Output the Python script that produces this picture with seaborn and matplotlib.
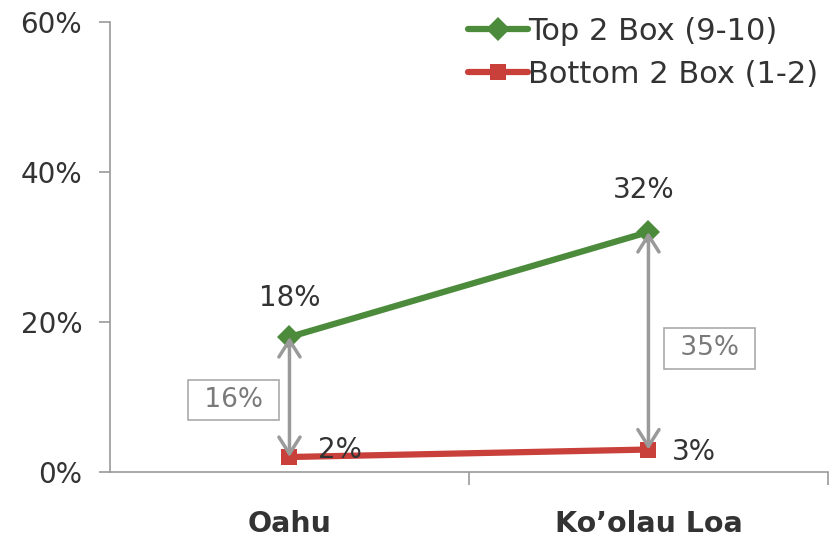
import pandas as pd
import numpy as np
import matplotlib
matplotlib.use("Agg")
import matplotlib.pyplot as plt
import seaborn as sns

# Data
regions = ["Oahu", "Ko\u2019olau Loa"]
top2 = [18, 32]
bottom2 = [2, 3]
gaps = ["16%", "35%"]
series_names = ["Top 2 Box (9-10)", "Bottom 2 Box (1-2)"]

df = pd.DataFrame({
    "region": regions * 2,
    "pct": top2 + bottom2,
    "series": [series_names[0]] * 2 + [series_names[1]] * 2,
})

sns.set_style("white")
plt.rcParams['font.family'] = ['DejaVu Sans']

green = "#4c8b3c"
red = "#c9403a"
grey = "#9a9a9a"
text_col = "#333333"

fig = plt.figure(figsize=(8.3, 5.37), dpi=100)
ax = fig.add_axes([0.1325, 0.121, 0.865, 0.838])

sns.lineplot(data=df, x="region", y="pct", hue="series", style="series",
             palette=[green, red], markers=["D", "s"], dashes=False,
             markersize=12, linewidth=4.5, markeredgewidth=0, ax=ax)

# gap arrows between the two series
for i in range(len(regions)):
    ax.annotate("", xy=(i, bottom2[i]), xytext=(i, top2[i]),
                arrowprops=dict(arrowstyle="<->,head_length=0.6,head_width=0.38",
                                mutation_scale=20, color=grey, lw=2.5,
                                shrinkA=0, shrinkB=0))

# boxed differences (offset from each category)
gap_pos = [(-0.156, 9.6), (0.17, 16.5)]
for i, g in enumerate(gaps):
    gx, gy = gap_pos[i]
    ax.text(i + gx, gy, " " + g + " ", ha="center", va="center", fontsize=19,
            color="#7a7a7a",
            bbox=dict(boxstyle="square,pad=0.28", fc="white", ec="#aaaaaa", lw=1.2))

# value labels
top_off = [(0.0, 5.2), (-0.013, 5.6)]
bot_off = [(0.14, 0.9), (0.126, -0.3)]
for i in range(len(regions)):
    ax.text(i + top_off[i][0], top2[i] + top_off[i][1], f"{top2[i]}%",
            ha="center", va="center", fontsize=20, color=text_col)
    ax.text(i + bot_off[i][0], bottom2[i] + bot_off[i][1], f"{bottom2[i]}%",
            ha="center", va="center", fontsize=20, color=text_col)

ax.set_xlim(-0.5, 1.5)
ax.set_ylim(0, 60)
ax.set_yticks([0, 20, 40, 60])
ax.set_yticklabels([f"{v}%" for v in [0, 20, 40, 60]], fontsize=20, color=text_col)
ax.set_xticks(range(len(regions)))
ax.set_xticklabels(regions, fontsize=20.5, fontweight="bold", color=text_col)
ax.tick_params(axis="x", length=0, pad=27)
ax.tick_params(axis="y", length=8, width=1.2, color=grey, left=True, pad=12)
ax.set_xticks([0.5, 1.5], minor=True)
ax.tick_params(axis="x", which="minor", length=9, width=1.2, color=grey,
               bottom=True, direction="out")
ax.set_xlabel("")
ax.set_ylabel("")

for s in ["top", "right"]:
    ax.spines[s].set_visible(False)
for s in ["left", "bottom"]:
    ax.spines[s].set_color(grey)
    ax.spines[s].set_linewidth(1.2)

leg = ax.legend(loc="upper right", bbox_to_anchor=(1.025, 1.072), frameon=False,
                fontsize=22, handlelength=1.96, handletextpad=0.0, labelspacing=0.44)
for t in leg.get_texts():
    t.set_color(text_col)

fig.savefig("out.png", dpi=100)
